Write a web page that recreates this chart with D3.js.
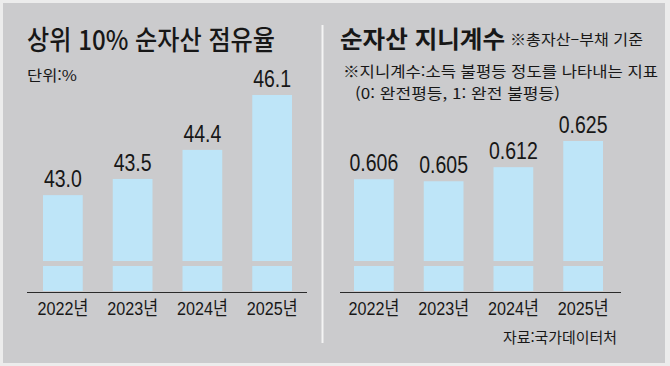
<!DOCTYPE html>
<html lang="ko">
<head>
<meta charset="utf-8">
<script src="https://cdn.jsdelivr.net/npm/d3@7"></script>
<style>
  html, body { margin: 0; padding: 0; background: #ececec; }
  svg { display: block; }
  text { font-family: "Noto Sans CJK KR", sans-serif; fill: #171717; }
  .num { font-family: "Liberation Sans", Arial, "Noto Sans CJK KR", sans-serif; }
</style>
</head>
<body>
<svg id="chart" width="670" height="366"></svg>
<script>
// ---- data ----
const years = ['2022년', '2023년', '2024년', '2025년'];
const shareValues = [43.0, 43.5, 44.4, 46.1];   // 상위 10% 순자산 점유율 (%)
const giniValues = [0.606, 0.605, 0.612, 0.625]; // 순자산 지니계수
const shareDomain = [40, 46.1];
const giniDomain = [0.55, 0.625];

const BG = '#cbcbcd';
const BAR = '#bee5f8';
const baseY = 292;

const svg = d3.select('#chart');

// gray panel with light frame
svg.append('rect').attr('x', 3).attr('y', 3).attr('width', 662).attr('height', 360).attr('fill', BG);

// divider
svg.append('line')
  .attr('x1', 322.5).attr('x2', 322.5).attr('y1', 25).attr('y2', 343)
  .attr('stroke', '#f4f4f4').attr('stroke-width', 2);

// fitted text helper
function label(x, y, str, size, width, weight) {
  const t = svg.append('text')
    .attr('x', x).attr('y', y)
    .attr('font-size', size)
    .attr('font-weight', weight || 400)
    .text(str);
  if (width) t.attr('textLength', width).attr('lengthAdjust', 'spacingAndGlyphs');
  return t;
}

// ---- one bar panel ----
function drawPanel(opts) {
  const x = d3.scaleBand()
    .domain(years)
    .range(opts.band)
    .paddingInner(0.43)
    .paddingOuter(0.215);

  const y = d3.scaleLinear()
    .domain(opts.domain)
    .range([baseY, opts.topY]);

  const g = svg.append('g');

  g.selectAll('rect.bar')
    .data(opts.values)
    .join('rect')
    .attr('class', 'bar')
    .attr('x', (d, i) => x(years[i]))
    .attr('width', x.bandwidth())
    .attr('y', d => y(d))
    .attr('height', d => y(opts.domain[0]) - y(d) - 1)
    .attr('fill', BAR);

  // axis break band
  g.selectAll('rect.brk')
    .data(opts.values)
    .join('rect')
    .attr('class', 'brk')
    .attr('x', (d, i) => x(years[i]) - 1)
    .attr('width', x.bandwidth() + 2)
    .attr('y', baseY - 31)
    .attr('height', 5)
    .attr('fill', BG);

  // value labels, narrow numerals
  g.selectAll('text.val')
    .data(opts.values)
    .join('text')
    .attr('class', 'val num')
    .attr('transform', (d, i) => `translate(${x(years[i]) + x.bandwidth() / 2},${y(d) - 8}) scale(0.83,1)`)
    .attr('text-anchor', 'middle')
    .attr('font-size', 23.5)
    .text(opts.fmt);

  const axis = d3.axisBottom(x).tickSize(0).tickPadding(0);
  const ax = g.append('g').attr('transform', `translate(0,${baseY})`).call(axis);
  ax.select('.domain').remove();
  ax.selectAll('text')
    .attr('class', 'num')
    .attr('dy', null)
    .attr('y', null)
    .attr('transform', 'translate(0,23) scale(0.85,1)')
    .attr('font-size', 19)
    .attr('fill', '#171717');

  g.append('line')
    .attr('x1', opts.axis[0]).attr('x2', opts.axis[1])
    .attr('y1', baseY + 0.5).attr('y2', baseY + 0.5)
    .attr('stroke', '#2a2a2a').attr('stroke-width', 1);
}

drawPanel({
  band: [28, 307], axis: [27, 307],
  values: shareValues, domain: shareDomain, topY: 95,
  fmt: d3.format('.1f')
});

drawPanel({
  band: [339, 618], axis: [340, 621],
  values: giniValues, domain: giniDomain, topY: 141,
  fmt: d3.format('.3f')
});

// ---- titles and notes ----
label(27, 50, '상위 10% 순자산 점유율', 27, 248, 500);
label(27, 81, '단위:%', 15, 50);

label(340, 48, '순자산 지니계수', 24, 165, 700);
label(510, 45, '※총자산–부채 기준', 15, 133);
label(343, 77, '※지니계수:소득 불평등 정도를 나타내는 지표', 15, 315);
label(355, 99, '(0: 완전평등, 1: 완전 불평등)', 15, 205);

label(503, 343, '자료:국가데이터처', 15, 114);
</script>
</body>
</html>
